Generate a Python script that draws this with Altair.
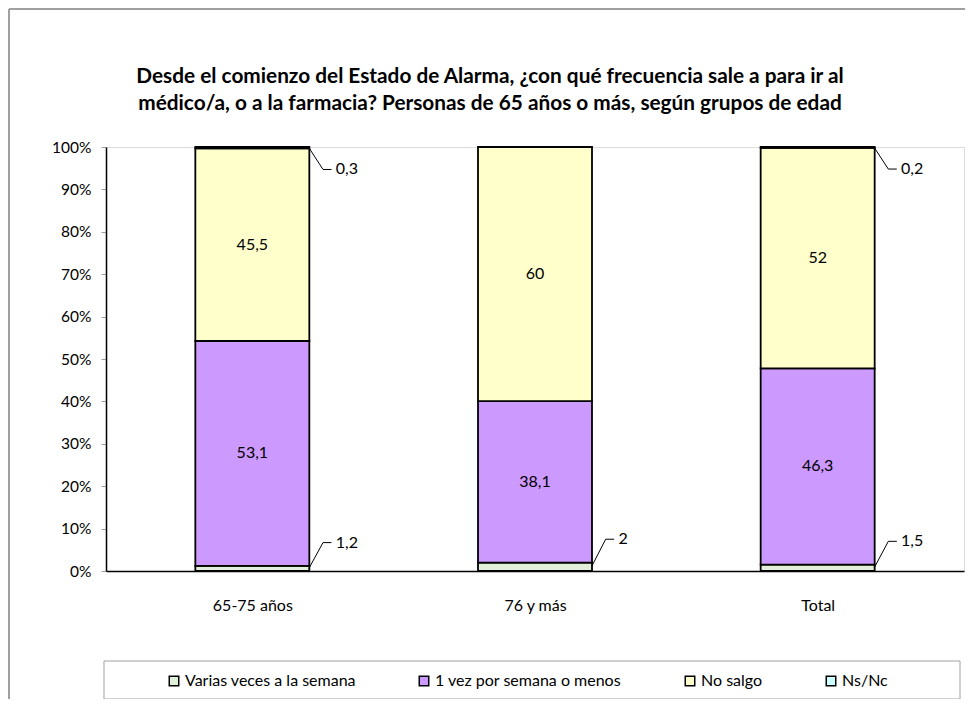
import json
import altair as alt
import pandas as pd

categories = ["65-75 años", "76 y más", "Total"]
series = ["Varias veces a la semana", "1 vez por semana o menos", "No salgo", "Ns/Nc"]
varias = [1.2, 2, 1.5]
una_vez = [53.1, 38.1, 46.3]
no_salgo = [45.5, 60, 52]
nsnc = [0.3, 0, 0.2]
colors = ["#e2efd9", "#cc99ff", "#ffffcc", "#ccffff"]
y_ticks = [0, 0.1, 0.2, 0.3, 0.4, 0.5, 0.6, 0.7, 0.8, 0.9, 1.0]
title_lines = [
    "Desde el comienzo del Estado de Alarma, ¿con qué frecuencia sale a para ir al",
    "médico/a, o a la farmacia? Personas de 65 años o más, según grupos de edad",
]

rows = []
for i, c in enumerate(categories):
    for k, (s, vals) in enumerate(zip(series, [varias, una_vez, no_salgo, nsnc])):
        rows.append({"cat": c, "idx": i, "series": s, "order": k, "value": vals[i]})
df = pd.DataFrame(rows)

FONT = "Lato"
FS = 16
W, H = 858, 424

base = alt.Chart(df).transform_stack(
    stack="value", groupby=["cat"], as_=["y0", "y1"],
    sort=[alt.SortField("order")], offset="normalize",
)

xscale = alt.Scale(domain=[-0.5, 2.5], nice=False, zero=False)
yscale = alt.Scale(domain=[0, 1], nice=False)

label_expr = json.dumps(categories, ensure_ascii=False) + "[datum.value]"

xaxis = alt.Axis(
    values=[0, 1, 2], labelExpr=label_expr, ticks=False, grid=False, title=None,
    domainColor="black", domainWidth=1.5, labelFont=FONT, labelFontSize=FS,
    labelColor="black", labelPadding=26)
yaxis = alt.Axis(
    values=y_ticks, format=".0%", grid=False, title=None, domainColor="black",
    domainWidth=1.5, tickColor="#a0a0a0", tickSize=5, labelFont=FONT,
    labelFontSize=15.5, labelColor="black", labelPadding=10)


def X(field):
    return alt.X(field, type="quantitative", scale=xscale, axis=xaxis)


def Y(field):
    return alt.Y(field, type="quantitative", scale=yscale, axis=yaxis)


bars = base.mark_bar(size=114, stroke="black", strokeWidth=1.8).encode(
    x=X("idx"),
    y=Y("y0"),
    y2="y1:Q",
    color=alt.Color("series:N", scale=alt.Scale(domain=series, range=colors),
                    legend=alt.Legend(
                        orient="none", legendX=60, legendY=526, direction="horizontal",
                        columns=4, columnPadding=60, title=None, symbolType="square",
                        symbolSize=90, symbolStrokeColor="black", symbolStrokeWidth=1.5,
                        labelFont=FONT, labelFontSize=FS, labelColor="black",
                        labelOffset=3, labelLimit=400)),
)

lbl_expr = "replace(toString(datum.value), '.', ',')"

mid_labels = base.transform_filter("datum.order == 1 || datum.order == 2").transform_calculate(
    mid="(datum.y0 + datum.y1) / 2", lbl=lbl_expr
).mark_text(font=FONT, fontSize=FS, color="black").encode(
    x=X("idx"), y=Y("mid"), text="lbl:N",
)

small = base.transform_filter(
    "(datum.order == 0 || datum.order == 3) && datum.value > 0"
).transform_calculate(
    ya="(datum.y0 + datum.y1) / 2",
    ly="datum.order == 0 ? datum.y1 + 0.055 : datum.y0 - 0.05",
    xa="datum.idx + 0.2",
    xb="datum.idx + 0.25",
    xc="datum.idx + 0.28",
    xt="datum.idx + 0.295",
    lbl=lbl_expr,
)

leader1 = small.mark_rule(color="black", strokeWidth=1).encode(
    x=X("xa"), x2="xb:Q", y=Y("ya"), y2="ly:Q",
)
leader2 = small.mark_rule(color="black", strokeWidth=1).encode(
    x=X("xb"), x2="xc:Q", y=Y("ly"),
)
small_text = small.mark_text(font=FONT, fontSize=FS, color="black", align="left").encode(
    x=X("xt"), y=Y("ly"), text="lbl:N",
)

deco_df = pd.DataFrame({"k": [0]})
deco = alt.Chart(deco_df)
frame_top = deco.mark_rule(color="#a0a0a0", strokeWidth=2).encode(
    x=alt.value(-97), x2=alt.value(W + 2), y=alt.value(-138))
frame_left = deco.mark_rule(color="#a0a0a0", strokeWidth=2).encode(
    x=alt.value(-97), y=alt.value(-138), y2=alt.value(H + 140))
legend_box = deco.mark_rect(fill="transparent", stroke="#a0a0a0", strokeWidth=1).encode(
    x=alt.value(-2), x2=alt.value(854), y=alt.value(514), y2=alt.value(552))
title = deco.mark_text(
    text=title_lines, font=FONT, fontSize=20.8, fontWeight="bold", color="black",
    align="center", baseline="top", lineHeight=27,
).encode(x=alt.value(W / 2 - 45), y=alt.value(-80))

chart = alt.layer(
    frame_top, frame_left, legend_box, title,
    bars, mid_labels, leader1, leader2, small_text
).properties(
    width=W, height=H,
    autosize=alt.AutoSizeParams(type="none"),
    padding={"left": 98, "top": 139, "right": 1, "bottom": 128},
).configure_view(stroke="#a0a0a0", strokeWidth=1).configure(background="white")

chart.save("out.html", embed_options={"renderer": "svg", "actions": False})
